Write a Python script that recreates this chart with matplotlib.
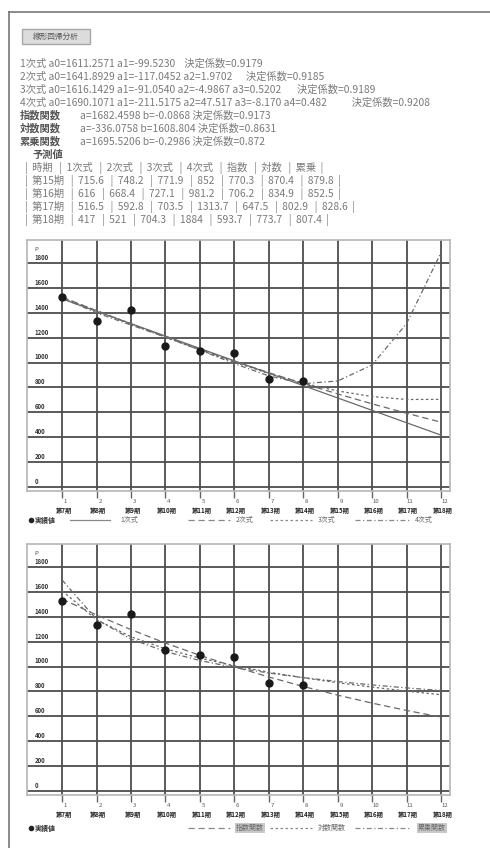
import matplotlib
matplotlib.use("Agg")
import matplotlib.pyplot as plt
from matplotlib.lines import Line2D
from matplotlib.patches import Rectangle
from matplotlib.transforms import blended_transform_factory

plt.rcParams['font.family'] = ['Noto Sans CJK JP', 'DejaVu Sans']

W, H = 490, 848

# ---- data ----
x_ticks = list(range(1, 13))
periods = ['第7期', '第8期', '第9期', '第10期', '第11期', '第12期',
           '第13期', '第14期', '第15期', '第16期', '第17期', '第18期']
x_actual = [1, 2, 3, 4, 5, 6, 7, 8]
y_actual = [1530, 1335, 1420, 1130, 1095, 1075, 865, 850]

fit_lin = [1511.7, 1412.2, 1312.7, 1213.2, 1113.6, 1014.1, 914.6, 815.1, 715.6, 616.0, 516.5, 417.0]
fit_quad = [1526.8, 1415.7, 1308.5, 1205.2, 1105.9, 1010.6, 919.1, 831.6, 748.2, 668.4, 592.8, 521.0]
fit_cub = [1520.6, 1418.2, 1312.2, 1205.4, 1101.2, 1002.7, 912.8, 834.9, 771.9, 727.1, 703.5, 704.3]
fit_quart = [1518.4, 1399.5, 1301.7, 1204.8, 1100.4, 991.6, 892.8, 830.4, 852.0, 981.2, 1313.7, 1884.0]
fit_exp = [1542.6, 1414.3, 1296.7, 1188.9, 1090.1, 999.4, 916.3, 840.2, 770.3, 706.2, 647.5, 593.7]
fit_log = [1608.8, 1375.9, 1239.6, 1142.9, 1067.9, 1006.6, 954.8, 909.9, 870.4, 834.9, 802.9, 773.7]
fit_pow = [1695.5, 1378.5, 1221.3, 1120.8, 1048.5, 992.9, 948.3, 911.2, 879.8, 852.5, 828.6, 807.4]

y_grid = list(range(0, 1801, 200))

coef_lines = [
    '1次式 a0=1611.2571 a1=-99.5230    決定係数=0.9179',
    '2次式 a0=1641.8929 a1=-117.0452 a2=1.9702      決定係数=0.9185',
    '3次式 a0=1616.1429 a1=-91.0540 a2=-4.9867 a3=0.5202       決定係数=0.9189',
    '4次式 a0=1690.1071 a1=-211.5175 a2=47.517 a3=-8.170 a4=0.482           決定係数=0.9208',
]
func_names = ['指数関数', '対数関数', '累乗関数']
func_coefs = ['a=1682.4598 b=-0.0868 決定係数=0.9173',
              'a=-336.0758 b=1608.804 決定係数=0.8631',
              'a=1695.5206 b=-0.2986 決定係数=0.872']
table_head = ['時期', '1次式', '2次式', '3次式', '4次式', '指数', '対数', '累乗']

FS = 7.4


def fx(px):
    return px / W


def fy(py):
    return 1 - py / H


def fmt(v):
    s = '%.1f' % v
    return s[:-2] if s.endswith('.0') else s


fig = plt.figure(figsize=(W / 100, H / 100), dpi=100)
fig.patch.set_facecolor('white')

# outer frame
fig.add_artist(Line2D([fx(9), fx(9)], [fy(12), 0], transform=fig.transFigure, color='#777', lw=1.2))
fig.add_artist(Line2D([fx(9), 1], [fy(12), fy(12)], transform=fig.transFigure, color='#777', lw=1.2))

# button
fig.add_artist(Rectangle((fx(22), fy(44)), fx(90) - fx(22), fy(29) - fy(44), transform=fig.transFigure,
                         facecolor='#dcdcdc', edgecolor='#a8a8a8', lw=1))
fig.text(fx(56), fy(36.5), '線形回帰分析', fontsize=5.5, color='#555', ha='center', va='center')

# coefficient text
ty = 64
for line in coef_lines:
    fig.text(fx(20), fy(ty), line, fontsize=FS, color='#7a7a7a', va='center')
    ty += 13
for name, coef in zip(func_names, func_coefs):
    fig.text(fx(20), fy(ty), name, fontsize=FS, color='#555', fontweight='bold', va='center')
    fig.text(fx(80), fy(ty), coef, fontsize=FS, color='#7a7a7a', va='center')
    ty += 13
fig.text(fx(32), fy(ty), '予測値', fontsize=FS, color='#555', fontweight='bold', va='center')
ty += 13
sep = '   |  '
fig.text(fx(25), fy(ty), '|  ' + sep.join(table_head) + '  |', fontsize=FS, color='#7a7a7a', va='center')
ty += 13
for i in range(8, 12):
    vals = [fit_lin[i], fit_quad[i], fit_cub[i], fit_quart[i], fit_exp[i], fit_log[i], fit_pow[i]]
    row = '|  ' + periods[i] + sep + sep.join(fmt(v) for v in vals) + '  |'
    fig.text(fx(25), fy(ty), row, fontsize=FS, color='#7a7a7a', va='center')
    ty += 13


def draw_chart(top_px, series):
    ax = fig.add_axes([fx(27), fy(top_px + 251), fx(450) - fx(27), 251 / H])
    ax.set_xlim(-0.02, 12.26)
    ax.set_ylim(-32, 1985)
    for v in y_grid:
        ax.axhline(v, color='#4d4d4d', lw=1.3, zorder=1)
    for x in x_ticks:
        ax.axvline(x, color='#4d4d4d', lw=1.3, zorder=1)
    for sp in ax.spines.values():
        sp.set_color('#b5b5b5')
        sp.set_linewidth(1.2)
    ax.set_yticks([])
    ax.set_xticks(x_ticks)
    ax.set_xticklabels([])
    ax.tick_params(axis='x', length=5, width=1, color='#666')
    for v in y_grid:
        ax.text(0.2, v + 45, str(v), fontsize=4.3, fontweight='bold', color='#333', va='center')
    ax.text(0.2, 1910, 'P', fontsize=4.3, color='#444', va='center')
    trans = blended_transform_factory(ax.transData, ax.transAxes)
    for x, p in zip(x_ticks, periods):
        ax.text(x + 0.1, -0.03, str(x), transform=trans, fontsize=4.3, color='#555',
                ha='center', va='top')
        ax.text(x + 0.05, -0.062, p, transform=trans, fontsize=4.5, color='#222',
                fontweight='bold', ha='center', va='top')
    for vals, ls in series:
        ax.plot(x_ticks, vals, color='#6a6a6a', lw=0.9, linestyle=ls, zorder=3)
    ax.plot(x_actual, y_actual, 'o', color='#1a1a1a', ms=5, zorder=4)
    return ax


draw_chart(240, [(fit_lin, '-'), (fit_quad, (0, (5, 3))),
                 (fit_cub, (0, (2, 2))), (fit_quart, (0, (4, 2, 1, 2)))])
draw_chart(544, [(fit_exp, (0, (5, 3))), (fit_log, (0, (2, 2))),
                 (fit_pow, (0, (4, 2, 1, 2)))])


def legend(py, items, boxed):
    fig.add_artist(Line2D([fx(31)], [fy(py)], marker='o', ms=3, color='#222',
                          transform=fig.transFigure))
    fig.text(fx(35), fy(py), '実績値', fontsize=5, color='#333', fontweight='bold', va='center')
    for (x0, x1, tx, label, ls), box in zip(items, boxed):
        fig.add_artist(Line2D([fx(x0), fx(x1)], [fy(py), fy(py)], transform=fig.transFigure,
                              color='#888', lw=0.9, linestyle=ls))
        kw = {}
        if box:
            kw['bbox'] = dict(boxstyle='square,pad=0.15', facecolor='#c8c8c8', edgecolor='none')
        fig.text(fx(tx), fy(py), label, fontsize=5, color='#666', va='center', **kw)


legend(520, [(70, 110, 120, '1次式', '-'), (188, 230, 236, '2次式', (0, (5, 3))),
             (270, 312, 318, '3次式', (0, (2, 2))), (355, 410, 415, '4次式', (0, (4, 2, 1, 2)))],
       [False, False, False, False])
legend(828, [(188, 230, 236, '指数関数', (0, (5, 3))), (270, 312, 318, '対数関数', (0, (2, 2))),
             (355, 410, 418, '累乗関数', (0, (4, 2, 1, 2)))],
       [True, False, True])

fig.savefig('out.png', dpi=100)
